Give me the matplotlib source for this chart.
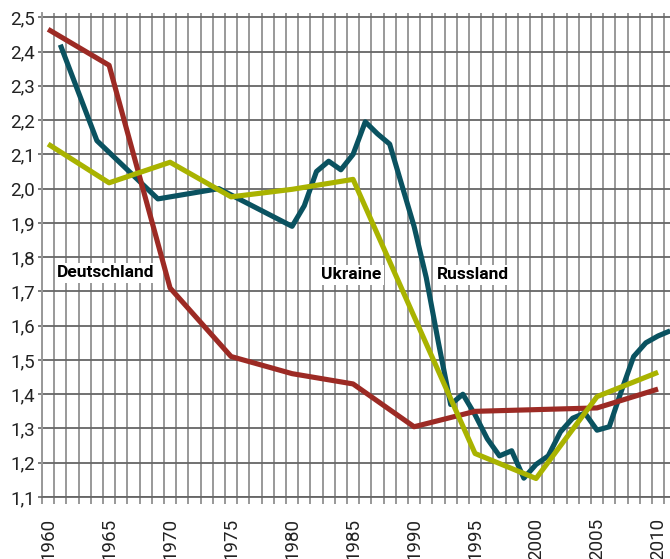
"""
Fertility rate: Deutschland, Ukraine, Russland 1960-2011
"""
import numpy as np
import matplotlib.pyplot as plt

plt.rcParams['font.family'] = ['Roboto', 'DejaVu Sans']

# Russland (yearly in parts)
years_ru = [1961, 1964, 1969, 1974, 1980, 1981, 1982, 1983, 1984, 1985,
            1986, 1987, 1988, 1989, 1990, 1991, 1992, 1993, 1994, 1995,
            1996, 1997, 1998, 1999, 2000, 2001, 2002, 2003, 2004, 2005,
            2006, 2007, 2008, 2009, 2010, 2011]
rate_ru = [2.42, 2.14, 1.97, 2.0, 1.89, 1.95, 2.05, 2.08, 2.055, 2.10,
           2.195, 2.16, 2.13, 2.01, 1.89, 1.74, 1.55, 1.37, 1.40, 1.34,
           1.27, 1.22, 1.235, 1.155, 1.195, 1.22, 1.29, 1.33, 1.345, 1.295,
           1.305, 1.41, 1.51, 1.55, 1.57, 1.585]

# Deutschland (5-year steps)
years_de = [1960, 1965, 1970, 1975, 1980, 1985, 1990, 1995, 2000, 2005, 2010]
rate_de = [2.465, 2.36, 1.71, 1.51, 1.46, 1.43, 1.305, 1.35, 1.355, 1.36, 1.415]

# Ukraine
years_ua = [1960, 1965, 1970, 1975, 1980, 1985, 1995, 2000, 2005, 2010]
rate_ua = [2.13, 2.017, 2.077, 1.976, 1.998, 2.027, 1.227, 1.154, 1.393, 1.464]

yticks = np.round(np.arange(1.1, 2.51, 0.1), 1)
xlabels = list(range(1960, 2011, 5))

fig = plt.figure(figsize=(6.7, 5.59), dpi=100)
ax = fig.add_axes([42/670, 62/559, 628/670, 483.8/559])

lw = 3.7
ax.plot(years_ru, rate_ru, color='#0a5260', lw=lw, solid_joinstyle='round', solid_capstyle='butt', zorder=3)
ax.plot(years_de, rate_de, color='#9c2a24', lw=lw, solid_joinstyle='round', solid_capstyle='butt', zorder=4)
ax.plot(years_ua, rate_ua, color='#a9b300', lw=lw, solid_joinstyle='round', solid_capstyle='butt', zorder=5)

ax.set_xlim(1959.5, 2010.98)
ax.set_ylim(1.1, 2.512)

# category style x axis: labels centered, gridlines in between
ax.set_xticks(xlabels)
ax.set_xticklabels([str(y) for y in xlabels], rotation=90, fontsize=13.5,
                   color='#222222')
ax.set_xticks(np.arange(1959.5, 2011, 1), minor=True)
ax.tick_params(axis='x', which='major', length=0, pad=15)
ax.tick_params(axis='x', which='minor', length=5, width=1.3, color='#909090')
ax.grid(which='minor', axis='x', color='#999999', lw=1.4, zorder=1)

ax.set_yticks(yticks)
ax.set_yticklabels([f'{v:.1f}'.replace('.', ',') for v in yticks], fontsize=13.5,
                   color='#222222')
ax.tick_params(axis='y', length=3, width=1.2, color='#666666', pad=2)
ax.grid(which='major', axis='y', color='#666666', lw=1.3, zorder=1)

for s in ['top', 'right']:
    ax.spines[s].set_visible(False)
ax.spines['left'].set_color('#999999')
ax.spines['left'].set_linewidth(1.4)
ax.spines['bottom'].set_color('#666666')
ax.spines['bottom'].set_linewidth(1.3)

box = dict(facecolor='white', edgecolor='none', pad=2)
ax.text(1964.75, 1.754, 'Deutschland', fontsize=12.5, fontweight='bold', ha='center', va='center', bbox=box, zorder=6)
ax.text(1984.8, 1.748, 'Ukraine', fontsize=12.5, fontweight='bold', ha='center', va='center', bbox=box, zorder=6)
ax.text(1994.8, 1.748, 'Russland', fontsize=12.5, fontweight='bold', ha='center', va='center', bbox=box, zorder=6)

plt.savefig('out.png', dpi=100)
